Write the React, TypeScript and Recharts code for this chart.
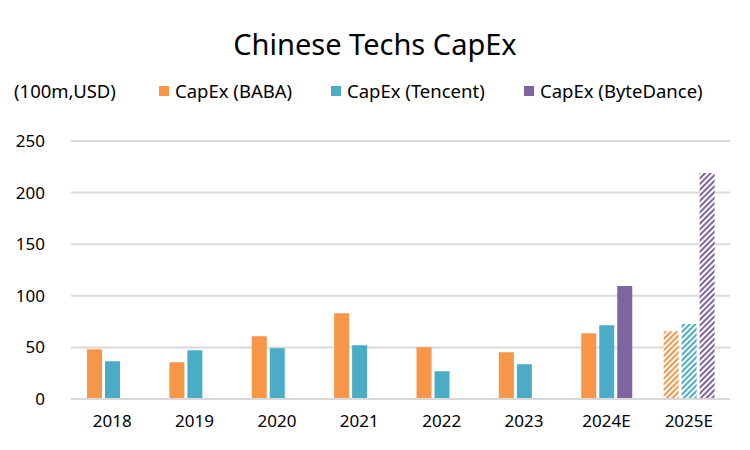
import { BarChart, Bar, XAxis, YAxis, CartesianGrid, Cell } from "recharts";

const years = ["2018", "2019", "2020", "2021", "2022", "2023", "2024E", "2025E"];
const baba = [48.2, 35.6, 60.8, 83.2, 50.2, 45.3, 63.8, 65.6];
const tencent = [36.6, 47.2, 49.2, 52.1, 26.9, 33.7, 71.5, 72.7];
const byteDance = [null, null, null, null, null, null, 109.6, 219];
const yTicks = [0, 50, 100, 150, 200, 250];
const estimateYear = "2025E";

const series = [
  { key: "baba", name: "CapEx (BABA)", color: "#F79646", pattern: "hatchBaba", x: 159 },
  { key: "tencent", name: "CapEx (Tencent)", color: "#4BACC6", pattern: "hatchTencent", x: 331 },
  { key: "byteDance", name: "CapEx (ByteDance)", color: "#8064A2", pattern: "hatchByte", x: 524 },
];

const data = years.map((year, i) => ({
  year,
  baba: baba[i],
  tencent: tencent[i],
  byteDance: byteDance[i],
}));

const font = "'Noto Sans', 'Open Sans', sans-serif";

function LegendBox() {
  const text = { position: "absolute" as const, top: 0, lineHeight: "24px", whiteSpace: "nowrap" as const };
  return (
    <div style={{ position: "absolute", top: 79, left: 0, width: 750, height: 24, fontFamily: font, fontSize: 18.5, color: "#000" }}>
      <span style={{ ...text, left: 14 }}>(100m,USD)</span>
      {series.map((s) => (
        <span key={s.key}>
          <span style={{ position: "absolute", left: s.x, top: 7, width: 10, height: 10, background: s.color }} />
          <span style={{ ...text, left: s.x + 16 }}>{s.name}</span>
        </span>
      ))}
    </div>
  );
}

export default function App() {
  return (
    <div style={{ position: "absolute", left: 0, top: 0, width: 750, height: 450, background: "#fff" }}>
      <div
        style={{
          position: "absolute",
          top: 24,
          width: 750,
          textAlign: "center",
          fontFamily: font,
          fontSize: 29,
          color: "#000",
          lineHeight: "40px",
        }}
      >
        Chinese Techs CapEx
      </div>
      <LegendBox />
      <BarChart
        width={750}
        height={450}
        data={data}
        margin={{ top: 141, right: 20, bottom: 11, left: 0 }}
        barSize={15}
        barGap={3}
      >
        <defs>
          {series.map((s) => (
            <pattern
              key={s.pattern}
              id={s.pattern}
              width={4}
              height={4}
              patternUnits="userSpaceOnUse"
              patternTransform="rotate(45)"
            >
              <rect width={4} height={4} fill="#fff" />
              <rect width={2} height={4} fill={s.color} />
            </pattern>
          ))}
        </defs>
        <CartesianGrid vertical={false} stroke="#D9D9D9" strokeWidth={2} />
        <XAxis
          dataKey="year"
          tickLine={false}
          tickSize={0}
          tickMargin={16}
          axisLine={{ stroke: "#D9D9D9", strokeWidth: 2 }}
          tick={{ fill: "#000", fontSize: 17, fontFamily: font }}
          height={40}
        />
        <YAxis
          domain={[0, 250]}
          ticks={yTicks}
          tickLine={false}
          tickSize={0}
          tickMargin={26}
          axisLine={false}
          width={71}
          tick={{ fill: "#000", fontSize: 17, fontFamily: font }}
        />
        {series.map((s) => (
          <Bar key={s.key} dataKey={s.key} name={s.name} fill={s.color} isAnimationActive={false}>
            {data.map((d) => (
              <Cell key={d.year} fill={d.year === estimateYear ? `url(#${s.pattern})` : s.color} />
            ))}
          </Bar>
        ))}
      </BarChart>
    </div>
  );
}
